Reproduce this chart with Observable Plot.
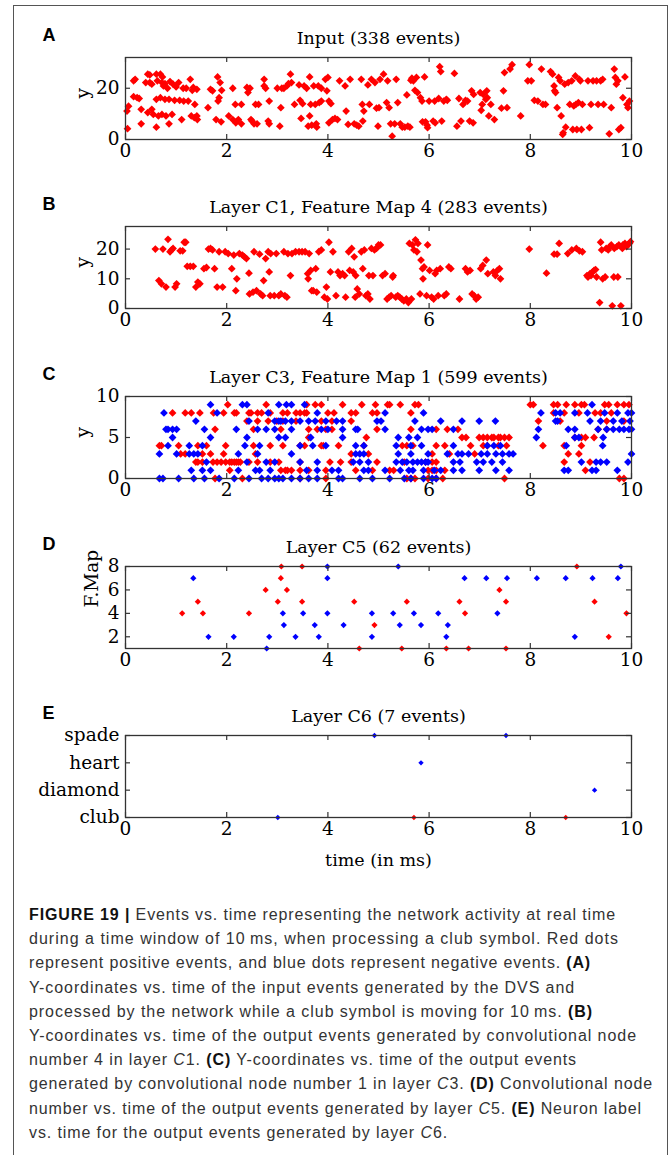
<!DOCTYPE html>
<html><head><meta charset="utf-8">
<script src="https://cdn.jsdelivr.net/npm/d3@7"></script>
<script src="https://cdn.jsdelivr.net/npm/@observablehq/plot@0.6"></script>
<style>
html,body{margin:0;padding:0;background:#fff;}
#fig{position:relative;width:669px;height:1155px;overflow:hidden;background:#fff;}
#border{position:absolute;left:13px;top:5px;width:655px;height:1170px;border:1.5px solid #555;box-sizing:border-box;}
.panel{position:absolute;left:0;}
#caption{position:absolute;left:29px;top:903px;font-family:"Liberation Sans",Arial,sans-serif;font-size:16px;line-height:24.2px;color:#333;}
#caption div{white-space:nowrap;}
#caption b{color:#111;}
</style></head>
<body><div id="fig"><div id="border"></div><div id="caption"></div></div>
<script>
// ---------- DATA ----------
const xTicks = [0, 2, 4, 6, 8, 10];
const titles = ["Input (338 events)", "Layer C1, Feature Map 4 (283 events)", "Layer C3, Feature Map 1 (599 events)", "Layer C5 (62 events)", "Layer C6 (7 events)"];
const letters = ["A", "B", "C", "D", "E"];
const c6Labels = ["club", "diamond", "heart", "spade"];

// Panel A: input events [time, y] (all positive / red)
const inputEvents = [[0.04,4.2],[0.03,11.1],[0.06,13],[0.16,22.9],[0.19,23.5],[0.16,16.7],[0.23,16.3],[0.27,16],[0.31,6.1],[0.31,11.8],[0.4,22.2],[0.44,25.5],[0.48,22.2],[0.44,10.5],[0.48,25.2],[0.52,21.6],[0.52,11.8],[0.55,9.8],[0.61,25.5],[0.63,22.9],[0.61,15.7],[0.61,4.8],[0.65,9.2],[0.69,25.5],[0.73,24.4],[0.72,22.2],[0.75,20.9],[0.69,16.3],[0.72,9.8],[0.78,21.8],[0.78,15.7],[0.8,9.2],[0.83,20],[0.86,6.1],[0.86,15.7],[0.88,22.6],[0.92,9.8],[0.94,21.6],[0.97,15.3],[1.0,20.5],[1.05,22.2],[1.07,15.3],[1.11,7.8],[1.14,20],[1.15,15],[1.2,20],[1.24,15],[1.28,23.5],[1.3,9.2],[1.32,19.2],[1.34,20.3],[1.36,8.5],[1.37,13.7],[1.41,19.6],[1.41,9.2],[1.42,7.8],[1.63,12.4],[1.68,19.6],[1.72,19],[1.79,7.8],[1.82,24.4],[1.83,15],[1.85,16.3],[1.87,22.2],[1.89,6.9],[1.9,19.2],[2.04,9.2],[2.12,20],[2.12,7.8],[2.17,13.7],[2.18,6.5],[2.23,7.8],[2.29,13.7],[2.29,6.1],[2.4,20.3],[2.42,18.3],[2.46,20],[2.48,7.8],[2.5,7.2],[2.54,6.1],[2.57,13.7],[2.6,6.1],[2.63,13.7],[2.74,20.9],[2.74,23.5],[2.77,20],[2.82,7.2],[2.84,15],[2.84,6.1],[3.0,20],[3.05,5.2],[3.07,12.4],[3.09,20],[3.13,20],[3.19,20.9],[3.22,21.8],[3.26,25.5],[3.28,22.2],[3.34,13.7],[3.43,21.3],[3.45,15.3],[3.47,8.2],[3.5,14],[3.53,20.9],[3.58,20],[3.61,5.2],[3.64,24.4],[3.64,9.2],[3.66,13.7],[3.68,5.6],[3.72,20.9],[3.75,13.7],[3.77,6.1],[3.78,4.8],[3.81,20.9],[3.83,14.4],[3.87,20],[3.87,15],[3.95,23.5],[3.98,19],[4.0,24.2],[4.02,15],[4.02,6.5],[4.06,14],[4.09,7.8],[4.14,8.2],[4.19,7.8],[4.23,22.9],[4.34,20.9],[4.36,11.1],[4.4,5.9],[4.44,23.5],[4.52,6.1],[4.57,5.6],[4.61,5.2],[4.66,23.5],[4.68,13.7],[4.69,7.2],[4.71,11.1],[4.79,21.3],[4.82,13.7],[4.86,23.5],[4.93,22.2],[4.96,12.2],[4.99,5.2],[5.01,12.4],[5.03,23.5],[5.1,25.5],[5.16,14.4],[5.18,22.9],[5.21,12.4],[5.24,6.1],[5.27,1.3],[5.32,6.1],[5.35,23.5],[5.38,14.4],[5.43,6.1],[5.47,4.8],[5.52,4.8],[5.56,17.4],[5.58,5.2],[5.62,4.8],[5.64,23.1],[5.66,23.9],[5.69,22.9],[5.72,19.2],[5.75,24.2],[5.77,18.3],[5.83,16.3],[5.86,15],[5.87,6.9],[5.91,24.4],[5.93,6.9],[5.96,5.6],[5.97,4.6],[6.0,15],[6.08,7.2],[6.11,15],[6.12,6.5],[6.19,16],[6.21,28.4],[6.23,26.5],[6.25,7.2],[6.29,15],[6.34,15.7],[6.36,15.3],[6.5,25.8],[6.55,5.2],[6.59,16],[6.63,7.2],[6.67,13.7],[6.72,15.3],[6.76,15],[6.8,7.2],[6.84,19],[6.87,6.5],[6.88,17.6],[7.01,18.3],[7.03,11.4],[7.05,13.7],[7.07,17.6],[7.12,15.7],[7.14,19],[7.15,16.3],[7.18,9.2],[7.22,13.7],[7.29,7.8],[7.43,12.2],[7.47,19],[7.49,26.1],[7.54,12.4],[7.6,27.5],[7.64,29.2],[7.81,9.2],[7.95,22.9],[7.98,29.2],[8.02,22.9],[8.08,15.3],[8.15,15],[8.22,27.5],[8.25,13.7],[8.3,13.7],[8.4,26.5],[8.44,25.5],[8.47,20.9],[8.48,19],[8.5,18.3],[8.53,12.4],[8.56,24.2],[8.59,22.9],[8.61,9.2],[8.64,2],[8.65,2.6],[8.68,21.6],[8.7,4.8],[8.75,22.2],[8.78,13.7],[8.82,22.9],[8.84,3.9],[8.86,13.1],[8.89,24.8],[8.9,13.7],[8.92,3.9],[8.95,14.4],[8.97,23.5],[8.99,22.9],[9.01,3.9],[9.03,13.7],[9.14,22.9],[9.17,4.6],[9.2,13.7],[9.24,22.9],[9.31,22.9],[9.34,13.7],[9.39,22.9],[9.43,23.5],[9.45,13.7],[9.56,2.2],[9.6,12.4],[9.66,27.5],[9.68,24.2],[9.7,21.6],[9.73,22.9],[9.75,3.9],[9.79,4.6],[9.83,16.3],[9.87,24.4],[9.91,13.7],[9.93,12.4],[9.96,15]];

// Panel B: layer C1 map 4 events [time, y] (red)
const c1Events = [[0.59,20],[0.66,9.4],[0.71,8.3],[0.74,20],[0.8,7.2],[0.84,23.3],[0.88,19.1],[0.91,19.7],[0.94,20.2],[0.98,7.2],[1.01,8.3],[1.08,19.4],[1.13,19.4],[1.16,22.3],[1.19,22.3],[1.22,14.2],[1.28,14.2],[1.34,14.2],[1.39,7.2],[1.43,8.9],[1.47,8.3],[1.55,13.4],[1.6,13.8],[1.64,20],[1.68,20.2],[1.72,19.7],[1.76,13.4],[1.81,7.2],[1.85,19.1],[1.92,7.2],[1.97,19.1],[2.03,18.5],[2.1,13.4],[2.14,18],[2.18,6],[2.2,10],[2.25,18.5],[2.31,18],[2.35,17.4],[2.39,16.8],[2.44,11.9],[2.45,4.9],[2.52,5.5],[2.54,19.1],[2.59,6],[2.65,18.3],[2.67,4.9],[2.71,4.3],[2.73,9.4],[2.77,16.8],[2.82,19.1],[2.84,12.3],[2.87,18.5],[2.86,4.3],[2.94,4.3],[2.98,18.5],[3.03,4.3],[3.07,4.9],[3.13,19.1],[3.15,4.3],[3.19,3.8],[3.21,18.5],[3.26,11.1],[3.29,18.5],[3.36,19.1],[3.43,19.1],[3.49,19.1],[3.55,19.1],[3.6,11.7],[3.61,10],[3.63,18.5],[3.66,12.8],[3.68,6],[3.71,6],[3.76,13.4],[3.78,5.5],[3.82,19.1],[3.87,19.7],[3.93,3.8],[3.97,7.2],[3.99,3.2],[4.02,22.3],[4.05,12.3],[4.1,19.1],[4.16,4.3],[4.2,12.3],[4.24,11.1],[4.29,11.7],[4.33,11.1],[4.35,3.8],[4.41,19.1],[4.43,12.8],[4.47,20.2],[4.5,12.3],[4.52,17.4],[4.54,3.8],[4.55,11.1],[4.58,6.6],[4.62,4.9],[4.66,19.1],[4.69,13.4],[4.72,19.7],[4.75,4.3],[4.79,4.9],[4.81,11.1],[4.83,3.2],[4.86,20.2],[4.89,11.1],[4.92,19.7],[4.96,20.2],[5.0,21.4],[5.04,21.4],[5.08,11.1],[5.13,11.7],[5.17,3.2],[5.21,3.8],[5.25,4.3],[5.28,10.6],[5.29,11.1],[5.34,3.8],[5.38,4.3],[5.42,3.8],[5.46,3.2],[5.5,2.6],[5.55,3.2],[5.59,2],[5.61,21.9],[5.65,3.2],[5.67,21.4],[5.7,19.7],[5.73,23.1],[5.76,19.1],[5.78,21.9],[5.82,4.9],[5.84,16.3],[5.87,13.4],[5.88,10],[5.9,14],[5.95,4.3],[5.97,21.4],[6.01,12.8],[6.05,3.8],[6.09,3.2],[6.12,11.7],[6.15,12.8],[6.18,4.3],[6.22,13.4],[6.3,4.3],[6.34,4.9],[6.39,14],[6.43,13.4],[6.6,3.2],[6.72,13.4],[6.76,12.3],[6.81,12.8],[6.85,4.9],[6.89,4.3],[6.93,3.2],[6.97,3.8],[7.02,13.4],[7.06,14.5],[7.13,16.3],[7.16,11.7],[7.27,12.3],[7.31,11.1],[7.35,12.8],[7.39,13.4],[7.41,10],[7.98,20],[8.32,11.9],[8.47,18.3],[8.53,18.3],[8.57,21.9],[8.74,18.5],[8.82,19.7],[8.91,20.2],[8.97,19.4],[9.03,19.1],[9.12,11.1],[9.14,10.6],[9.18,11.7],[9.2,11.1],[9.23,12.3],[9.26,12.8],[9.29,13.1],[9.31,10.6],[9.37,2],[9.39,22.3],[9.41,19.7],[9.43,10],[9.48,10.6],[9.5,20.2],[9.54,19.7],[9.57,20.8],[9.6,21.4],[9.62,0.9],[9.65,10.6],[9.66,20.2],[9.71,20.8],[9.73,10.6],[9.75,21.4],[9.79,0.9],[9.82,20.2],[9.83,21.4],[9.87,21.9],[9.9,20.8],[9.92,21.4],[9.96,21.9],[9.98,22.5]];

// Panel C: layer C3 map 1 event times, one list per y row (index = y, 0..9)
const c3RedRows = [
  [1.77,2.31,3.45,3.96,5.56,5.64,5.72,5.98,6.14,6.27,7.49,9.76,9.85],
  [2.06,3.07,3.16,3.2,3.28,3.45,3.62,3.96,4.55,4.88,5.22,5.3,5.98,6.06,6.14,6.31,9.09],
  [1.39,1.43,1.52,1.73,1.81,1.89,1.98,2.06,2.1,2.15,2.19,2.23,2.27,2.44,2.61,2.86,3.03,3.45,4.04,4.25,4.46,4.97,5.51,5.93,6.06,6.14,8.67,9.18],
  [1.09,1.18,1.52,1.68,1.94,2.57,4.46,4.8,6.06,6.4,6.9,8.75,8.96],
  [0.67,0.71,1.05,1.43,1.6,1.98,2.53,2.86,3.11,3.45,3.54,3.87,3.91,4.21,4.71,5.47,5.56,5.68,6.14,6.31,6.82,7.07,7.15,7.37,7.53,8.25,8.67,9.01],
  [3.62,4.76,6.65,6.73,6.99,7.07,7.15,7.24,7.28,7.37,7.41,7.49,7.58,8.88,9.01,9.09,9.26],
  [1.77,2.53,3.07,3.62,3.79,3.96,4.08,4.97,5.64,6.14,6.36,6.57,9.34,9.51],
  [2.4,2.61,2.82,2.99,3.11,3.37,3.87,4.08,4.46,8.16,8.59,9.51,9.85],
  [0.93,1.18,1.3,1.47,1.74,1.94,2.15,2.19,2.44,2.48,2.61,2.69,2.86,3.11,3.2,3.37,3.45,3.54,3.58,4.0,4.12,4.46,4.55,4.88,4.97,5.64,8.46,8.67,8.96,9.28,9.39,9.6],
  [2.02,2.78,3.58,3.75,3.87,4.29,4.67,4.94,5.18,5.22,5.43,5.72,5.79,8.0,8.06,8.46,8.54,8.71,8.88,9.01,9.07,9.47,9.55,9.72,9.85,9.95]
];
const c3BlueRows = [
  [0.67,0.74,1.05,1.35,1.56,1.85,2.15,2.44,2.69,2.82,2.95,3.03,3.11,3.28,3.45,3.62,3.79,4.21,4.29,4.63,4.88,5.22,5.51,5.64,5.89,6.06,6.14],
  [1.3,1.52,1.68,2.23,2.57,2.65,2.86,3.58,3.79,4.08,4.21,4.71,4.8,5.13,5.43,5.6,5.68,5.89,6.1,6.23,6.48,6.65,6.99,7.32,7.58,8.67,8.75,9.22,9.3,9.72],
  [1.6,2.4,2.78,2.95,3.45,3.79,4.5,4.63,4.8,5.35,5.47,5.56,5.68,5.77,5.85,5.93,5.98,6.48,6.61,6.94,7.07,7.24,7.45,9.01,9.3,9.39,9.51,9.93],
  [0.67,1.01,1.26,1.35,1.43,2.23,2.61,3.28,4.55,4.63,4.71,5.39,5.64,5.98,6.36,6.57,6.65,6.78,7.03,7.15,7.32,7.45,7.58,7.66,10.0],
  [0.84,1.26,1.52,2.36,2.65,3.45,3.7,3.96,4.55,4.71,5.35,5.64,5.85,6.48,7.15,7.28,7.41,8.71,9.43],
  [0.93,1.68,2.4,3.03,3.16,3.66,4.29,5.39,5.6,5.77,8.12,8.88,8.96,9.44],
  [0.8,0.84,0.93,1.01,1.56,2.19,2.61,2.78,2.95,3.28,3.87,4.0,4.29,4.55,4.59,5.13,5.85,5.98,6.06,6.48,8.16,8.75,8.88,9.34,9.51,9.64,9.76,9.85,9.95,10.0],
  [1.39,2.44,2.95,3.03,3.07,3.16,3.28,3.45,3.62,3.75,3.96,4.17,4.29,4.97,5.05,5.72,6.23,6.65,6.99,7.31,8.5,8.54,9.18,9.39,9.64,9.81,9.97],
  [0.76,1.81,2.82,3.79,5.13,5.89,8.21,8.5,8.59,8.88,9.13,9.47,9.72,9.93,10.0],
  [1.68,2.31,2.4,3.03,3.18,3.28,3.54,9.22]
];

// Panel D: layer C5 events [time, feature map]
const c5Red = [[1.12,4],[1.43,5],[1.53,4],[2.44,4],[2.77,6],[3.01,5],[3.07,7],[3.08,8],[3.19,6],[3.49,8],[3.49,5],[4.52,5],[4.62,1],[4.92,3],[5.46,1],[5.56,5],[6.34,1],[6.6,5],[6.71,4],[6.78,1],[7.39,6],[7.52,5],[7.52,1],[8.92,8],[9.27,5],[9.55,2],[9.9,4]];
const c5Blue = [[1.34,7],[1.64,2],[2.14,2],[2.79,1],[2.84,2],[3.11,4],[3.13,3],[3.36,2],[3.51,4],[3.74,3],[3.82,2],[3.99,8],[3.99,7],[3.99,4],[4.31,3],[4.87,4],[4.87,2],[5.29,4],[5.39,8],[5.42,3],[5.7,4],[5.84,3],[6.18,4],[6.34,2],[6.37,3],[6.7,7],[7.13,7],[7.35,4],[7.54,7],[8.13,7],[8.7,7],[8.88,2],[9.23,7],[9.73,7],[9.79,8]];

// Panel E: layer C6 events [time, label, polarity]
const c6Events = [[3.01,"club","neg"],[4.92,"spade","neg"],[5.7,"club","pos"],[5.84,"heart","neg"],[7.52,"spade","neg"],[8.7,"club","pos"],[9.27,"diamond","neg"]];

const captionLines = [
  "<b>FIGURE 19 |</b> Events vs. time representing the network activity at real time",
  "during a time window of 10\u2009ms, when processing a club symbol. Red dots",
  "represent positive events, and blue dots represent negative events. <b>(A)</b>",
  "Y-coordinates vs. time of the input events generated by the DVS and",
  "processed by the network while a club symbol is moving for 10\u2009ms. <b>(B)</b>",
  "Y-coordinates vs. time of the output events generated by convolutional node",
  "number 4 in layer <i>C</i>1. <b>(C)</b> Y-coordinates vs. time of the output events",
  "generated by convolutional node number 1 in layer <i>C</i>3. <b>(D)</b> Convolutional node",
  "number vs. time of the output events generated by layer <i>C</i>5. <b>(E)</b> Neuron label",
  "vs. time for the output events generated by layer <i>C</i>6."
];

// ---------- LAYOUT ----------
const RED = "#ff0000", BLUE = "#0000ff", AX = "#333";
const W = 669, ML = 125, MR = 38, MT = 50, PH = 82, PW = W - ML - MR;
const plotTops = [56.6, 226.3, 396, 565.7, 735.4];
const captionWidths = [587, 590, 562, 546, 564, 608, 548, 624, 613, 419];
const fig = document.getElementById("fig");

function dots(data, fill, r) {
  return Plot.dot(data, {x: d => d[0], y: d => d[1], fill, stroke: "none", symbol: "diamond2", r});
}

function panel(i, {yDomain, yTicks, yTickFormat, yLabel, yLabelDx, marks, mb = 40, xLabel}) {
  const height = MT + PH + mb;
  const tk = {stroke: AX, strokeWidth: 1.2};
  const extra = [];
  if (yLabel) extra.push(Plot.text([yLabel], {frameAnchor: "left", dx: yLabelDx, rotate: -90, lineAnchor: "middle", fontSize: 18.5}));
  if (xLabel) extra.push(Plot.text([xLabel], {frameAnchor: "bottom", dy: 43, lineAnchor: "middle", fontSize: 17.5}));
  const svg = Plot.plot({
    width: W, height, marginLeft: ML, marginRight: MR, marginTop: MT, marginBottom: mb,
    style: {fontFamily: "'DejaVu Serif', serif", fontSize: "18px", color: "#000", background: "transparent", overflow: "visible"},
    x: {domain: [0, 10]},
    y: {domain: yDomain},
    marks: [
      ...marks,
      Plot.frame({stroke: AX, strokeWidth: 1.3}),
      Plot.tickX(xTicks, {x: d => d, insetTop: PH - 5, ...tk}),
      Plot.tickX(xTicks, {x: d => d, insetBottom: PH - 5, ...tk}),
      Plot.tickY(yTicks, {y: d => d, insetRight: PW - 5, ...tk}),
      Plot.tickY(yTicks, {y: d => d, insetLeft: PW - 5, ...tk}),
      Plot.axisX(xTicks, {tickSize: 0, tickPadding: 4, label: null, fontSize: 18.5}),
      Plot.axisY(yTicks, {tickSize: 0, tickPadding: 6, label: null, fontSize: 18.5, tickFormat: yTickFormat}),
      Plot.text([titles[i]], {frameAnchor: "top", dy: -19, lineAnchor: "middle", fontSize: 17.5}),
      Plot.text([letters[i]], {frameAnchor: "top-left", dx: -83, dy: -22, textAnchor: "start", lineAnchor: "middle", fontFamily: "'Liberation Sans', Arial, sans-serif", fontWeight: "bold", fontSize: 18}),
      ...extra
    ]
  });
  svg.classList.add("panel");
  svg.style.position = "absolute";
  svg.style.top = (plotTops[i] - MT) + "px";
  svg.style.left = "0px";
  fig.appendChild(svg);
}

const c3Red = c3RedRows.flatMap((row, y) => row.map(t => [t, y]));
const c3Blue = c3BlueRows.flatMap((row, y) => row.map(t => [t, y]));
const c6Data = c6Events.map(([t, lab, pol]) => [t, c6Labels.indexOf(lab) + 1, pol]);

panel(0, {yDomain: [0, 32], yTicks: [0, 20], yLabel: "y", yLabelDx: -42, marks: [dots(inputEvents, RED, 3.5)]});
panel(1, {yDomain: [0, 27.6], yTicks: [0, 10, 20], yLabel: "y", yLabelDx: -42, marks: [dots(c1Events, RED, 3.5)]});
panel(2, {yDomain: [0, 10], yTicks: [0, 5, 10], yLabel: "y", yLabelDx: -42, marks: [dots(c3Red, RED, 3.5), dots(c3Blue, BLUE, 3.5)]});
panel(3, {yDomain: [1, 8], yTicks: [2, 4, 6, 8], yLabel: "F.Map", yLabelDx: -33, marks: [dots(c5Red, RED, 2.8), dots(c5Blue, BLUE, 2.8)]});
panel(4, {yDomain: [1, 4], yTicks: [1, 2, 3, 4], yTickFormat: d => c6Labels[d - 1], mb: 60, xLabel: "time (in ms)",
  marks: [dots(c6Data.filter(d => d[2] === "pos"), RED, 2.4), dots(c6Data.filter(d => d[2] === "neg"), BLUE, 2.4)]});

// caption
const cap = document.getElementById("caption");
captionLines.forEach((html, i) => {
  const div = document.createElement("div");
  const span = document.createElement("span");
  span.innerHTML = html;
  div.appendChild(span);
  cap.appendChild(div);
  const w = span.getBoundingClientRect().width;
  const n = span.textContent.length;
  span.style.letterSpacing = ((captionWidths[i] - w) / n).toFixed(3) + "px";
});
</script>
</body></html>
